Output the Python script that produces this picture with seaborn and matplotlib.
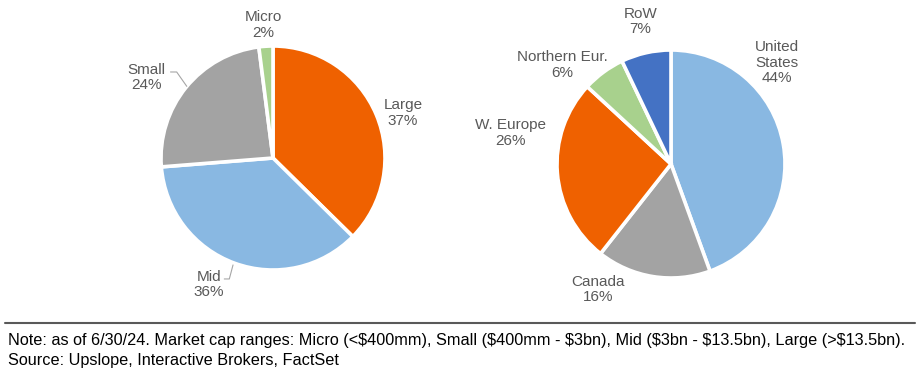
import matplotlib
matplotlib.use("Agg")
import matplotlib.pyplot as plt
import seaborn as sns

# ---- data ----
cap_labels = ["Large", "Mid", "Small", "Micro"]
cap_values = [37, 36, 24, 2]
cap_colors = ["#EF6100", "#89B8E2", "#A3A3A3", "#A8D18D"]

geo_labels = ["United\nStates", "Canada", "W. Europe", "Northern Eur.", "RoW"]
geo_values = [44, 16, 26, 6, 7]
geo_colors = ["#89B8E2", "#A3A3A3", "#EF6100", "#A8D18D", "#4472C4"]

note_lines = [
    "Note: as of 6/30/24. Market cap ranges: Micro (<$400mm), Small ($400mm - $3bn), Mid ($3bn - $13.5bn), Large (>$13.5bn).",
    "Source: Upslope, Interactive Brokers, FactSet",
]

# ---- layout (label positions in radius units) ----
cap_label_pos = [(1.16, 0.40), (-0.57, -1.13), (-1.13, 0.72), (-0.09, 1.19)]
cap_leaders = {1: [(-0.435, -1.08), (-0.39, -1.08), (-0.357, -0.955)],
               2: [(-0.915, 0.768), (-0.86, 0.768), (-0.77, 0.64)]}
geo_label_pos = [(0.93, 0.89), (-0.64, -1.10), (-1.41, 0.27), (-0.95, 0.87), (-0.27, 1.25)]

sns.set_theme(style="white")
plt.rcParams["font.family"] = ["Liberation Sans", "DejaVu Sans"]
plt.rcParams["text.parse_math"] = False

W, H = 918, 384
fig = plt.figure(figsize=(W / 100, H / 100), dpi=100)
TXT = "#595959"


def make_ax(cx, cy, r):
    size = 3 * r
    ax = fig.add_axes([(cx - size / 2) / W, (H - cy - size / 2) / H, size / W, size / H])
    return ax


def draw(ax, values, colors, labels, pos, leaders):
    ax.pie(values, colors=colors, startangle=90, counterclock=False,
           wedgeprops=dict(edgecolor="white", linewidth=2.6), radius=1.0)
    ax.set_xlim(-1.5, 1.5)
    ax.set_ylim(-1.5, 1.5)
    ax.set_aspect("equal")
    ax.axis("off")
    for i, (lab, v) in enumerate(zip(labels, values)):
        x, y = pos[i]
        ax.text(x, y, f"{lab}\n{v}%", ha="center", va="center", fontsize=11,
                color=TXT, linespacing=1.15)
    for i, pts in leaders.items():
        ax.plot([p[0] for p in pts], [p[1] for p in pts], color="#A6A6A6", lw=0.8)


ax1 = make_ax(273, 158, 112)
draw(ax1, cap_values, cap_colors, cap_labels, cap_label_pos, cap_leaders)

ax2 = make_ax(671, 164, 114)
draw(ax2, geo_values, geo_colors, geo_labels, geo_label_pos, {})

# separator line
fig.add_artist(plt.Line2D([5 / W, 915 / W], [1 - 323 / H, 1 - 323 / H],
                          color="#595959", lw=1.5, transform=fig.transFigure))

for k, line in enumerate(note_lines):
    fig.text(8 / W, 1 - (340 + k * 21) / H, line, ha="left", va="center",
             fontsize=11.7, color="black")

fig.savefig("out.png", dpi=100)
